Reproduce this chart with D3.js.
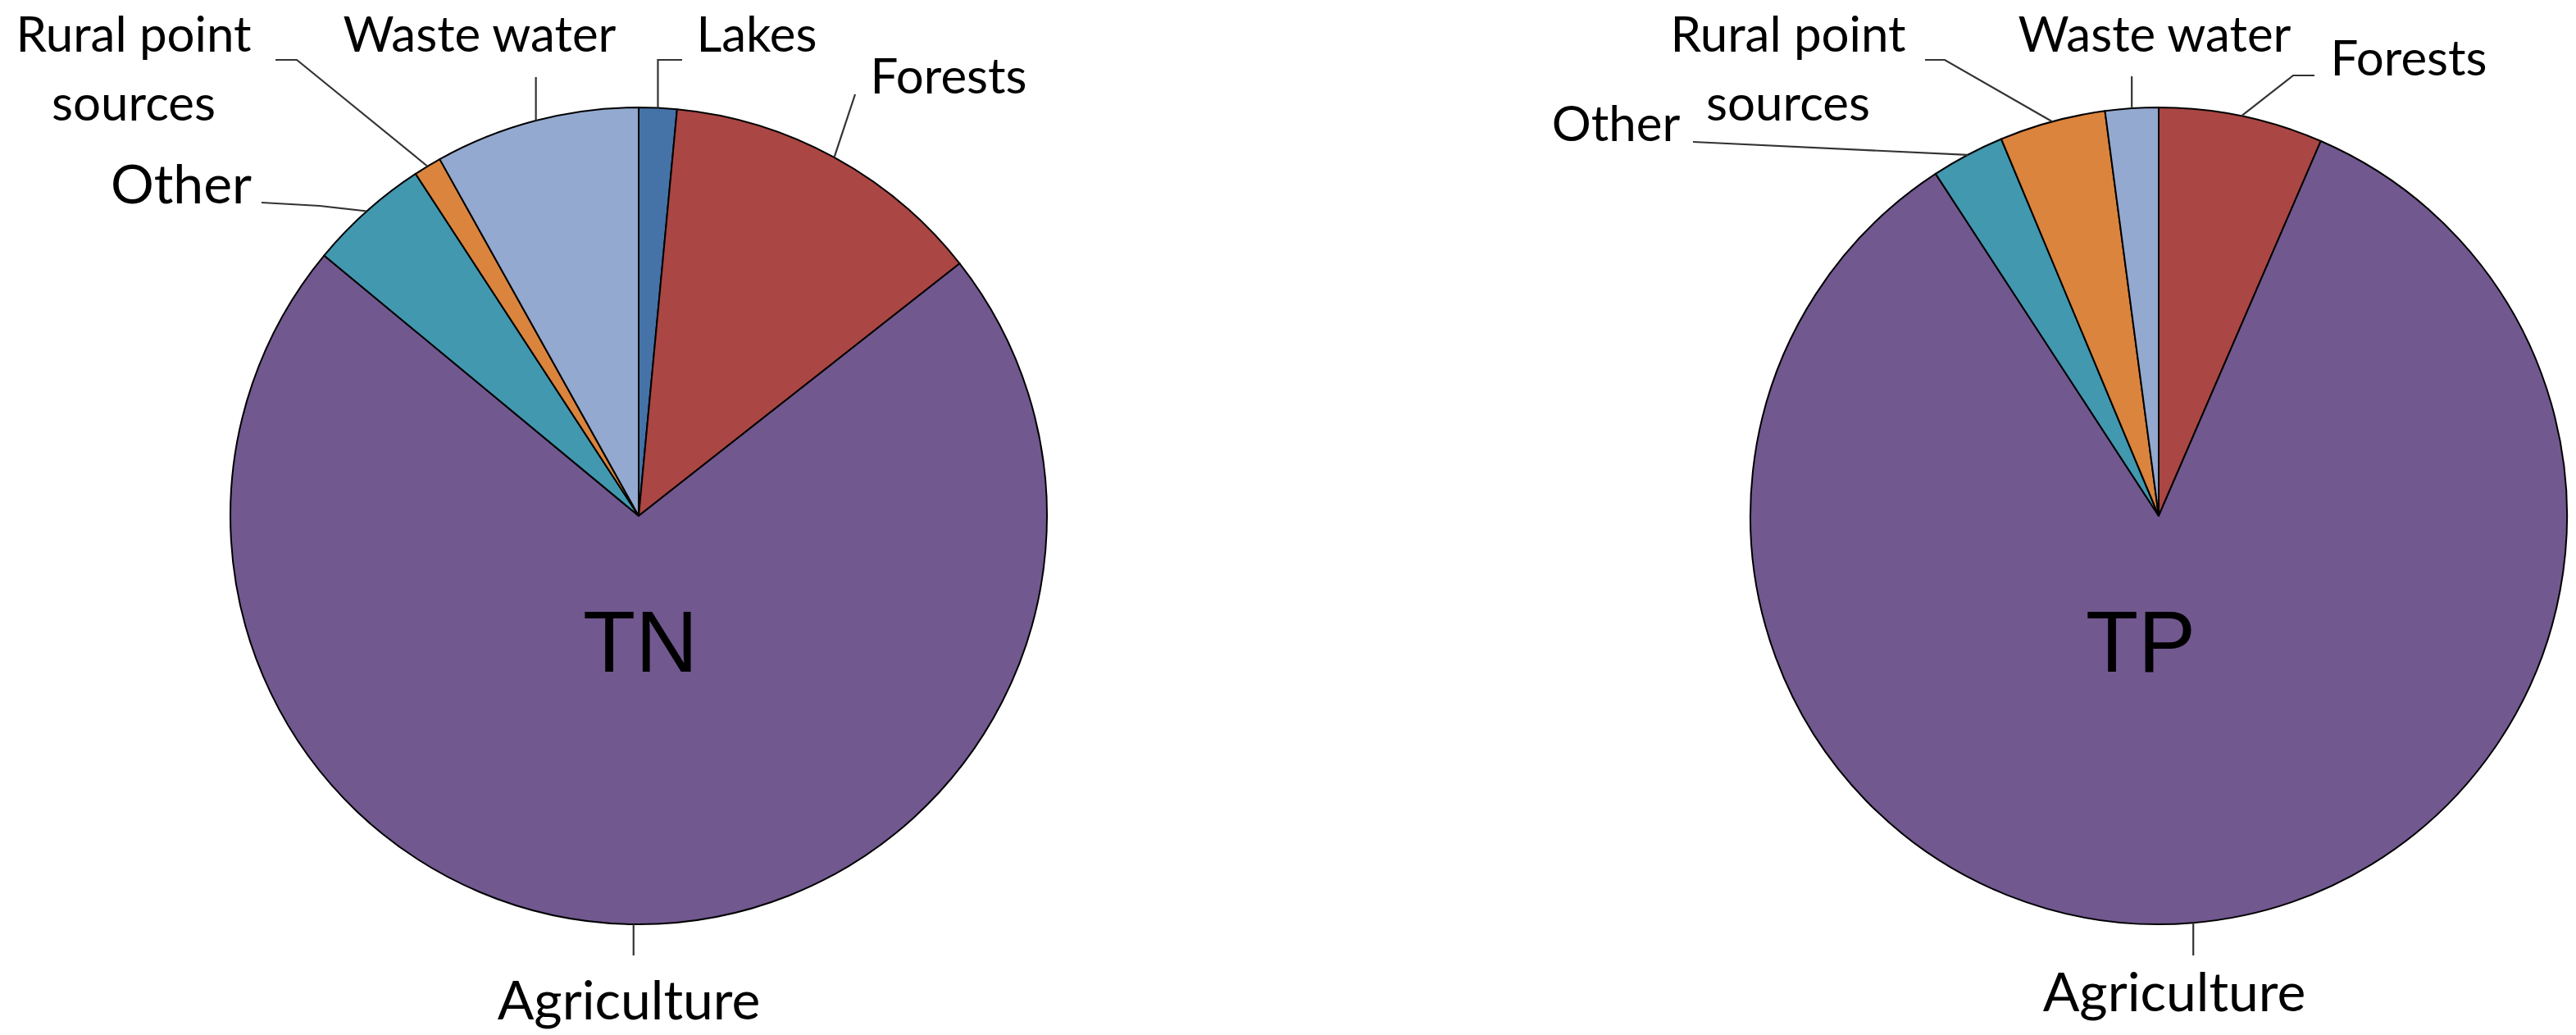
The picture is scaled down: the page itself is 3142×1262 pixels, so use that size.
<!DOCTYPE html>
<html>
<head>
<meta charset="utf-8">
<script src="https://cdn.jsdelivr.net/npm/d3@7"></script>
<style>
  html, body { margin: 0; padding: 0; background: #fff; }
  .lbl { font-family: Lato, "Open Sans", sans-serif; font-size: 66px; fill: #000; }
  .lbl.top { font-size: 60px; }
  .title { font-family: "Liberation Sans", Arial, sans-serif; font-size: 105px; fill: #000; }
</style>
</head>
<body>
<div id="chart"></div>
<script>
// categories in drawing order (clockwise from 12 o'clock)
let categories = ["Lakes", "Forests", "Agriculture", "Other", "Rural point sources", "Waste water"];
let labelLines = [["Lakes"], ["Forests"], ["Agriculture"], ["Other"], ["Rural point", "sources"], ["Waste water"]];
let colors = ["#4572A7", "#AA4643", "#71588F", "#4198AF", "#DB843D", "#93A9CF"];

// share of load (%)
let tnValues = [1.5, 12.9, 71.6, 4.8, 1.1, 8.1];
let tpValues = [0, 6.5, 84.3, 2.9, 4.2, 2.1];

let W = 3142, H = 1262;
let radius = 498;

// label placement relative to pie centre: text x/baseline y, leader bend points
let tnLayout = {
    "Lakes": { tx: 144, ty: -566, pts: [[null, -556], [53, -556]] },
    "Forests": { tx: 378, ty: -515, pts: [[264, -514]] },
    "Agriculture": { tx: -12, ty: 614, pts: [[null, 536]] },
    "Other": { tx: -558, ty: -381, pts: [[-389, -378], [-460, -382]] },
    "Rural point sources": { tx: -616, ty: -566, pts: [[-417, -556], [-443, -556]] },
    "Waste water": { tx: -194, ty: -566, pts: [[null, -535]] }
};
let tpLayout = {
    "Forests": { tx: 305, ty: -537, pts: [[164, -537], [190, -537]] },
    "Agriculture": { tx: 19, ty: 604, pts: [[null, 536]] },
    "Other": { tx: -662, ty: -457, pts: [[-568, -456]] },
    "Rural point sources": { tx: -452, ty: -566, pts: [[-261, -556], [-285, -556]] },
    "Waste water": { tx: -5, ty: -566, pts: [[null, -536]] }
};

let svg = d3.select("#chart").append("svg")
    .attr("width", W)
    .attr("height", H)
    .style("display", "block");

let pie = d3.pie().sort(null).value(d => d.value);
let arc = d3.arc().innerRadius(0).outerRadius(radius);
let rim = d3.arc().innerRadius(radius).outerRadius(radius);

let drawPie = (cx, cy, values, layout, title, titleDx) => {
    let data = categories.map((c, i) => ({ name: c, lines: labelLines[i], value: values[i], color: colors[i] }));
    let g = svg.append("g").attr("transform", `translate(${cx},${cy})`);
    let arcs = pie(data);

    // slices
    g.selectAll("path.slice")
        .data(arcs.filter(d => d.data.value > 0))
        .join("path")
        .attr("class", "slice")
        .attr("d", arc)
        .attr("fill", d => d.data.color)
        .attr("stroke", "#000")
        .attr("stroke-width", 2)
        .attr("stroke-linejoin", "round");

    // leader lines + labels
    arcs.filter(d => d.data.value > 0 && layout[d.data.name]).forEach(d => {
        let lay = layout[d.data.name];
        let start = rim.centroid(d);
        let pts = [start].concat(lay.pts.map(p => [p[0] === null ? start[0] : p[0], p[1]]));
        g.append("path")
            .attr("d", d3.line()(pts))
            .attr("fill", "none")
            .attr("stroke", "#333")
            .attr("stroke-width", 2.2);

        let t = g.append("text")
            .attr("class", lay.ty < -450 ? "lbl top" : "lbl")
            .attr("text-anchor", "middle")
            .attr("x", lay.tx)
            .attr("y", lay.ty);
        d.data.lines.forEach((ln, k) => {
            t.append("tspan")
                .attr("x", lay.tx)
                .attr("dy", k === 0 ? 0 : 84)
                .text(ln);
        });
    });

    g.append("text")
        .attr("class", "title")
        .attr("text-anchor", "middle")
        .attr("x", titleDx)
        .attr("y", 190)
        .text(title);
}

drawPie(779, 629, tnValues, tnLayout, "TN", 2);
drawPie(2633, 629, tpValues, tpLayout, "TP", -22);
</script>
</body>
</html>
